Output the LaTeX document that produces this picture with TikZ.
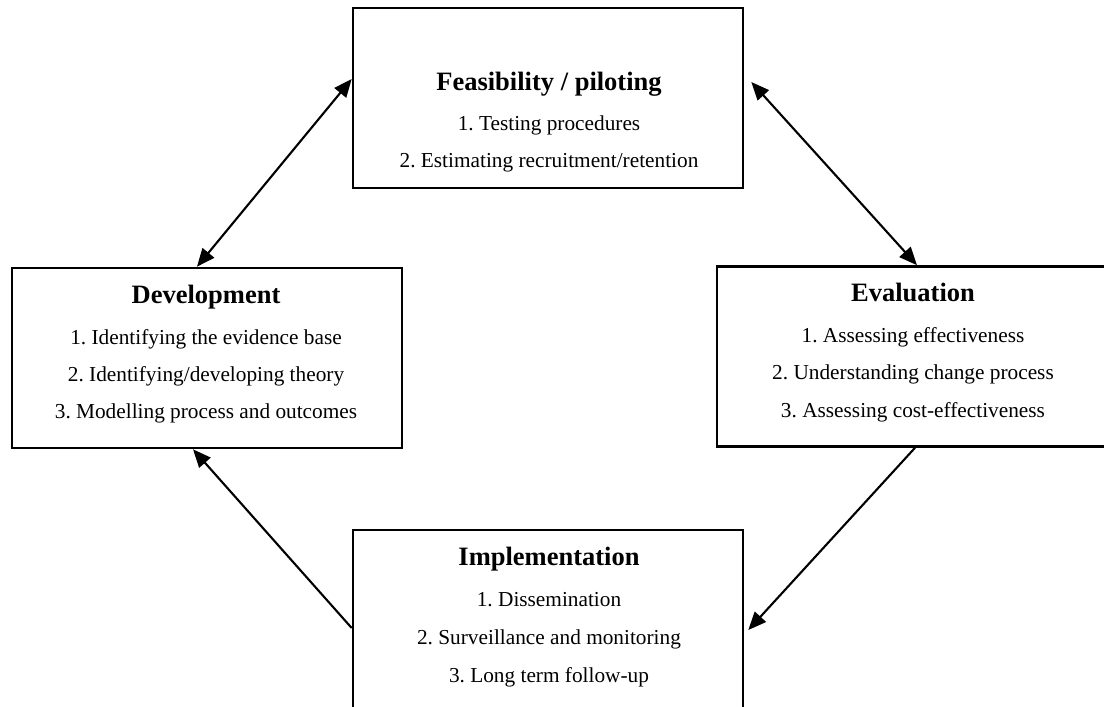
\documentclass[tikz,border=0pt]{standalone}
\usepackage{fontspec}
\setmainfont{Liberation Serif}
\usetikzlibrary{arrows.meta,calc}
\frenchspacing
\tikzset{
  stagebox/.style={draw=black, line width=2.6pt, rectangle, minimum width=390pt, minimum height=180pt, inner sep=0pt},
  titletext/.style={anchor=base, inner sep=0pt, font=\fontsize{26.5}{30}\selectfont\bfseries},
  itemtext/.style={anchor=base, inner sep=0pt, font=\fontsize{21.3}{25}\selectfont},
  link/.style={line width=2.1pt, draw=black}
}
\begin{document}
\begin{tikzpicture}[x=1pt,y=-1pt]
\useasboundingbox (0,0) rectangle (1104,707);
\clip (0,0) rectangle (1104,707);
\fill[white] (0,0) rectangle (1104,707);
% boxes
\node[stagebox] (feas) at (548,98) {};
\node[stagebox] (dev) at (207,358) {};
\node[stagebox] (eval) at (912,356.5) {};
\node[stagebox] (impl) at (548,620) {};
% texts
\node[titletext] (feasT) at (549,90) {Feasibility / piloting};
\node[itemtext] (feas1) at (549,130) {1. Testing procedures};
\node[itemtext] (feas2) at (549,167) {2. Estimating recruitment/retention};
\node[titletext] (devT) at (206,303) {Development};
\node[itemtext] (dev1) at (206,344) {1. Identifying the evidence base};
\node[itemtext] (dev2) at (206,381) {2. Identifying/developing theory};
\node[itemtext] (dev3) at (206,418) {3. Modelling process and outcomes};
\node[titletext] (evalT) at (913,301) {Evaluation};
\node[itemtext] (eval1) at (913,342) {1. Assessing effectiveness};
\node[itemtext] (eval2) at (913,379) {2. Understanding change process};
\node[itemtext] (eval3) at (913,417) {3. Assessing cost-effectiveness};
\node[titletext] (implT) at (549,565) {Implementation};
\node[itemtext] (impl1) at (549,606) {1. Dissemination};
\node[itemtext] (impl2) at (549,644) {2. Surveillance and monitoring};
\node[itemtext] (impl3) at (549,682) {3. Long term follow-up};
% connectors
\draw[link, {Triangle[length=18pt,width=15pt]}-{Triangle[length=18pt,width=15pt]}]
  ([yshift=19pt]feas.west) -- ([xshift=-10pt]dev.north);
\draw[link, {Triangle[length=18pt,width=15pt]}-{Triangle[length=18pt,width=15pt]}]
  ([xshift=7pt,yshift=16pt]feas.east) -- ([xshift=5pt]eval.north);
\draw[link, -{Triangle[length=18pt,width=15pt]}]
  ([xshift=3pt]eval.south) -- ([xshift=4pt,yshift=-10pt]impl.east);
\draw[link, -{Triangle[length=18pt,width=15pt]}]
  ([yshift=-8pt]impl.west) -- ([xshift=-14pt]dev.south);
\end{tikzpicture}
\end{document}
